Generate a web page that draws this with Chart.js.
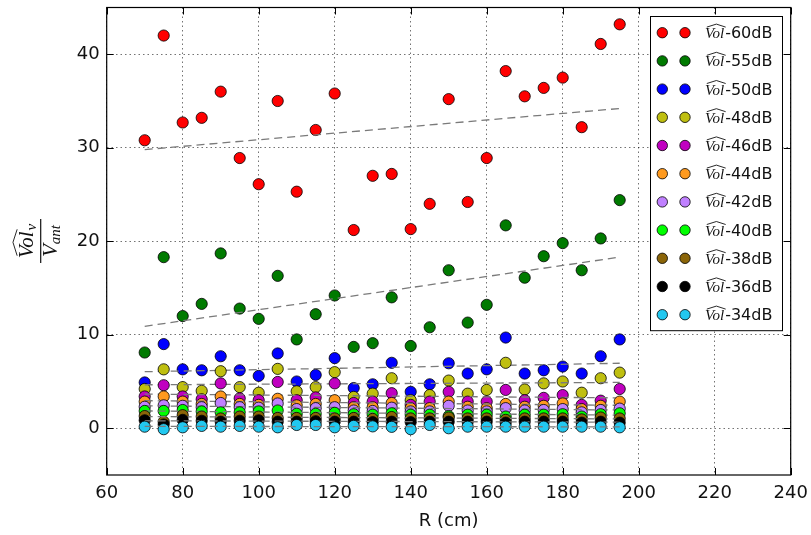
<!DOCTYPE html>
<html><head><meta charset="utf-8">
<script src="https://cdn.jsdelivr.net/npm/chart.js@4/dist/chart.umd.min.js"></script>
<style>html,body{margin:0;padding:0;background:#fff;overflow:hidden;}</style>
</head><body>
<canvas id="c" width="811" height="535"></canvas>
<script>
// ---------------- data ----------------
const distances = [70,75,80,85,90,95,100,105,110,115,120,125,130,135,140,145,150,155,160,165,170,175,180,185,190,195];
const seriesLabels = ['-60dB','-55dB','-50dB','-48dB','-46dB','-44dB','-42dB','-40dB','-38dB','-36dB','-34dB'];
const seriesColors = ['#ff0000','#007a00','#0000ff','#bfbf10','#c000c0','#ff9a1e','#c080ff','#00ff00','#8b6508','#000000','#22c8f0'];

const vol60 = [30.8,42.0,32.7,33.2,36.0,28.9,26.1,35.0,25.3,31.9,35.8,21.2,27.0,27.2,21.3,24.0,35.2,24.2,28.9,38.2,35.5,36.4,37.5,32.2,41.1,43.2];
const vol55 = [8.1,18.3,12.0,13.3,18.7,12.8,11.7,16.3,9.5,12.2,14.2,8.7,9.1,14.0,8.8,10.8,16.9,11.3,13.2,21.7,16.1,18.4,19.8,16.9,20.3,24.4];
const vol50 = [4.9,9.0,6.3,6.2,7.7,6.2,5.6,8.0,5.0,5.7,7.5,4.3,4.7,7.0,3.9,4.7,6.95,5.85,6.3,9.7,5.85,6.2,6.6,5.85,7.7,9.5];
const vol48 = [4.2,6.3,4.4,4.0,6.1,4.4,3.8,6.35,3.95,4.4,6.0,3.35,3.7,5.35,3.0,3.55,5.1,3.7,4.1,7.0,4.15,4.8,5.0,3.8,5.35,5.95];
const vol46 = [3.4,4.6,3.4,3.1,4.8,3.2,3.0,4.95,3.0,3.3,4.8,2.7,2.85,3.75,2.5,2.85,3.9,2.85,2.85,4.1,3.0,3.25,3.55,2.5,2.95,4.2];
const vol44 = [2.85,3.4,2.85,2.6,3.4,2.6,2.5,3.15,2.45,2.6,3.0,2.25,2.25,2.7,2.15,2.15,2.85,2.3,2.15,2.6,2.3,2.4,2.65,2.05,2.4,2.85];
const vol42 = [2.3,2.45,2.4,2.25,2.7,2.25,2.2,2.65,2.05,2.15,2.25,1.9,1.85,2.2,1.8,1.8,2.4,1.9,1.8,2.15,1.9,1.95,2.05,1.7,1.95,2.1];
const vol40 = [1.85,1.85,1.95,1.8,1.7,1.7,1.8,1.9,1.55,1.55,1.65,1.5,1.45,1.6,1.45,1.45,1.3,1.45,1.45,1.25,1.45,1.45,1.5,1.25,1.5,1.6];
const vol38 = [1.3,0.7,1.4,1.25,1.05,1.25,1.25,1.1,1.1,1.1,1.05,1.1,1.0,1.2,1.05,1.05,1.15,1.05,1.05,0.9,1.05,1.05,1.05,0.95,1.15,1.05];
const vol36 = [0.85,0.4,0.9,0.8,0.7,0.8,0.85,0.7,0.7,0.75,0.7,0.7,0.65,0.7,0.65,0.7,0.7,0.7,0.7,0.6,0.7,0.7,0.7,0.6,0.7,0.6];
const vol34 = [0.17,-0.1,0.1,0.25,0.17,0.25,0.17,0.1,0.35,0.35,0.1,0.25,0.2,0.15,-0.1,0.35,0.0,0.17,0.17,0.17,0.17,0.17,0.17,0.17,0.17,0.1];

// dashed fit lines: value at first and last distance
const trendStart = [29.8,10.9,6.05,4.65,3.65,2.95,2.4,1.85,1.25,0.8,0.2];
const trendEnd   = [34.2,18.3,6.95,4.9,3.25,2.45,1.95,1.4,1.0,0.65,0.15];

const xTicks = [60,80,100,120,140,160,180,200,220,240];
const yTicks = [0,10,20,30,40];
const seriesValues = [vol60,vol55,vol50,vol48,vol46,vol44,vol42,vol40,vol38,vol36,vol34];

// ---------------- chart ----------------
const datasets = [];
seriesValues.forEach((vals, i) => {
  datasets.push({
    type: 'scatter',
    label: 'Vol' + seriesLabels[i],
    data: distances.map((x, j) => ({x: x, y: vals[j]})),
    backgroundColor: seriesColors[i],
    borderColor: '#000',
    borderWidth: 0.8,
    pointRadius: 5.6,
    pointHoverRadius: 5.6,
    order: 2 * (10 - i) + 1
  });
  datasets.push({
    type: 'line',
    label: 'fit' + i,
    data: [{x: distances[0], y: trendStart[i]}, {x: distances[distances.length - 1], y: trendEnd[i]}],
    borderColor: '#7a7a7a',
    borderWidth: 1.3,
    borderDash: [8, 5],
    pointRadius: 0,
    fill: false,
    order: 2 * (10 - i)
  });
});

const PLOT = {left: 106.7, right: 790.7, top: 7.5, bottom: 475};

function hatWord(ctx, text, x, yBase, size) {
  ctx.font = 'italic ' + size + 'px "Liberation Serif"';
  ctx.textAlign = 'left';
  ctx.textBaseline = 'alphabetic';
  const w = ctx.measureText(text).width;
  ctx.fillText(text, x, yBase);
  const top = yBase - size * 0.74;
  ctx.beginPath();
  ctx.moveTo(x + size * 0.12, top);
  ctx.lineTo(x + w / 2 + size * 0.12, top - size * 0.2);
  ctx.lineTo(x + w + size * 0.1, top);
  ctx.lineWidth = 0.9;
  ctx.stroke();
  return w;
}

const decorPlugin = {
  id: 'decor',
  afterDatasetsDraw(chart) {
    const ctx = chart.ctx;
    const a = chart.chartArea;
    const xs = chart.scales.x, ys = chart.scales.y;
    ctx.save();
    ctx.strokeStyle = '#000';
    ctx.lineWidth = 1.2;
    ctx.strokeRect(a.left, a.top, a.right - a.left, a.bottom - a.top);
    ctx.lineWidth = 1;
    ctx.beginPath();
    const tl = 7;
    xTicks.forEach(v => {
      const px = Math.round(xs.getPixelForValue(v)) + 0.5;
      ctx.moveTo(px, a.bottom); ctx.lineTo(px, a.bottom - tl);
      ctx.moveTo(px, a.top); ctx.lineTo(px, a.top + tl);
    });
    yTicks.forEach(v => {
      const py = Math.round(ys.getPixelForValue(v)) + 0.5;
      ctx.moveTo(a.left, py); ctx.lineTo(a.left + tl, py);
      ctx.moveTo(a.right, py); ctx.lineTo(a.right - tl, py);
    });
    ctx.stroke();
    ctx.restore();
  },
  afterDraw(chart) {
    const ctx = chart.ctx;
    ctx.save();
    // ----- legend -----
    const lx = 650.5, ly = 16.5, lw = 132, step = 28.2, first = 32.7;
    const lh = first - ly + step * (seriesLabels.length - 1) + 16;
    ctx.fillStyle = '#fff';
    ctx.fillRect(lx, ly, lw, lh);
    ctx.strokeStyle = '#000';
    ctx.lineWidth = 1;
    ctx.strokeRect(lx, ly, lw, lh);
    seriesLabels.forEach((lab, i) => {
      const cy = first + i * step;
      [662.3, 685].forEach(cx => {
        ctx.beginPath();
        ctx.arc(cx, cy, 5.2, 0, Math.PI * 2);
        ctx.fillStyle = seriesColors[i];
        ctx.fill();
        ctx.lineWidth = 0.8;
        ctx.strokeStyle = '#000';
        ctx.stroke();
      });
      ctx.fillStyle = '#111';
      ctx.strokeStyle = '#111';
      const w = hatWord(ctx, 'Vol', 705, cy + 5.5, 15);
      ctx.font = '16px "DejaVu Sans"';
      ctx.fillText(lab, 705 + w + 1, cy + 5.5);
    });
    // ----- y axis label (fraction) -----
    ctx.translate(40.7, 241);
    ctx.rotate(-Math.PI / 2);
    ctx.fillStyle = '#111';
    ctx.strokeStyle = '#111';
    ctx.fillRect(-22, -0.6, 44, 1.2);
    // numerator
    ctx.font = 'italic 21px "Liberation Serif"';
    const wVol = ctx.measureText('Vol').width;
    ctx.font = 'italic 15px "Liberation Serif"';
    const wv = ctx.measureText('v').width;
    const nx = -(wVol + wv + 1) / 2;
    hatWord(ctx, 'Vol', nx, -8, 21);
    ctx.font = 'italic 15px "Liberation Serif"';
    ctx.fillText('v', nx + wVol + 1, -4.5);
    // denominator
    ctx.font = 'italic 21px "Liberation Serif"';
    const wV = ctx.measureText('V').width;
    ctx.font = 'italic 15px "Liberation Serif"';
    const wa = ctx.measureText('ant').width;
    const dx = -(wV + wa) / 2;
    ctx.font = 'italic 21px "Liberation Serif"';
    ctx.fillText('V', dx, 16.5);
    ctx.font = 'italic 15px "Liberation Serif"';
    ctx.fillText('ant', dx + wV, 19.5);
    ctx.restore();
  }
};

new Chart(document.getElementById('c'), {
  data: {datasets: datasets},
  options: {
    responsive: false,
    animation: false,
    devicePixelRatio: 1,
    layout: {padding: {top: PLOT.top, right: 811 - PLOT.right, left: 0, bottom: 0}},
    plugins: {legend: {display: false}, tooltip: {enabled: false}},
    scales: {
      x: {
        type: 'linear', min: 60, max: 240,
        afterBuildTicks: s => { s.ticks = xTicks.map(v => ({value: v})); },
        afterFit: s => { s.height = 535 - PLOT.bottom; s.paddingLeft = 0; s.paddingRight = 0; },
        grid: {color: 'rgba(0,0,0,0.55)', lineWidth: 1, drawTicks: false},
        border: {display: false, dash: [1.5, 3]},
        ticks: {font: {family: 'DejaVu Sans', size: 18}, color: '#111', padding: 8, maxRotation: 0},
        title: {display: true, text: 'R (cm)', font: {family: 'DejaVu Sans', size: 18}, color: '#111', padding: {top: 0, bottom: 3}}
      },
      y: {
        type: 'linear', min: -5, max: 45,
        afterBuildTicks: s => { s.ticks = yTicks.map(v => ({value: v})); },
        afterFit: s => { s.width = PLOT.left; s.paddingTop = 0; s.paddingBottom = 0; },
        grid: {color: 'rgba(0,0,0,0.55)', lineWidth: 1, drawTicks: false},
        border: {display: false, dash: [1.5, 3]},
        ticks: {font: {family: 'DejaVu Sans', size: 18}, color: '#111', padding: 7}
      }
    }
  },
  plugins: [decorPlugin]
});
</script>
</body></html>
